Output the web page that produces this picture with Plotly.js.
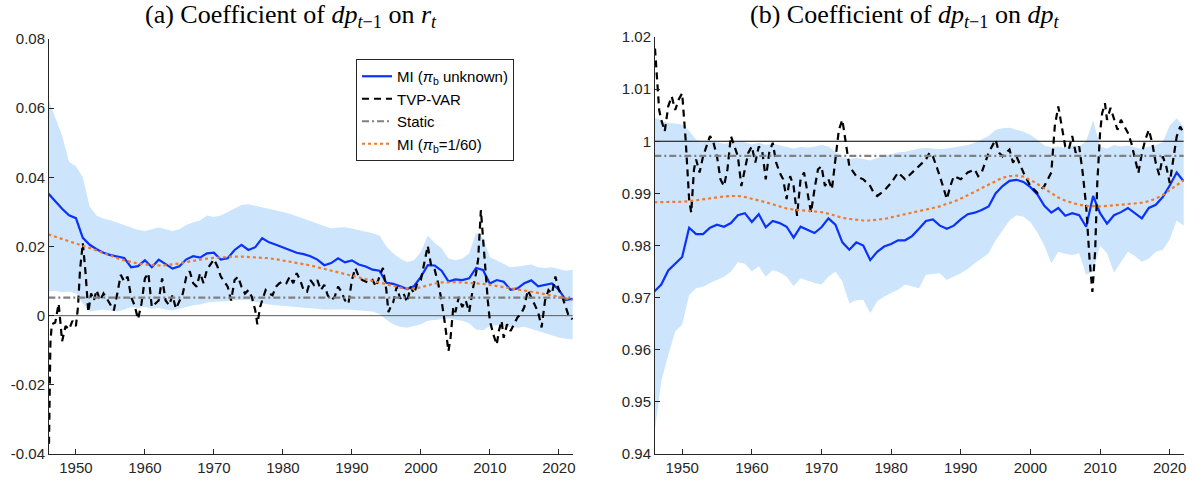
<!DOCTYPE html>
<html>
<head>
<meta charset="utf-8">
<script src="https://cdn.plot.ly/plotly-3.0.1.min.js"></script>
<style>
  html, body { margin: 0; padding: 0; background: #fff; }
  #chart { width: 1197px; height: 486px; }
</style>
</head>
<body>
<div id="chart"></div>
<script>
// annual grid shared by the smooth series
const years = [];
for (let y = 1946; y <= 2022; y++) years.push(y);

// ---- panel (a): coefficient of dp(t-1) on r(t) ----
const miA = [0.0353, 0.0330, 0.0309, 0.0290, 0.0282, 0.0225, 0.0205, 0.0192, 0.0182, 0.0175,
  0.0170, 0.0167, 0.0140, 0.0143, 0.0160, 0.0140, 0.0162, 0.0148, 0.0136, 0.0143,
  0.0163, 0.0172, 0.0168, 0.0180, 0.0182, 0.0162, 0.0166, 0.0190, 0.0205, 0.0190,
  0.0198, 0.0224, 0.0212, 0.0205, 0.0197, 0.0190, 0.0182, 0.0178, 0.0172, 0.0162,
  0.0146, 0.0152, 0.0166, 0.0154, 0.0160, 0.0148, 0.0142, 0.0133, 0.0130, 0.0095,
  0.0092, 0.0085, 0.0077, 0.0085, 0.0112, 0.0146, 0.0145, 0.0130, 0.0099, 0.0105,
  0.0103, 0.0108, 0.0138, 0.0132, 0.0093, 0.0103, 0.0098, 0.0075, 0.0079, 0.0094,
  0.0102, 0.0085, 0.0090, 0.0093, 0.0075, 0.0045, 0.0049];

const mi60A = [0.0235, 0.0228, 0.0221, 0.0214, 0.0208, 0.0202, 0.0196, 0.0188, 0.0180, 0.0172,
  0.0166, 0.0160, 0.0155, 0.0151, 0.0148, 0.0146, 0.0145, 0.0146, 0.0148, 0.0151,
  0.0155, 0.0159, 0.0162, 0.0165, 0.0167, 0.0169, 0.0170, 0.0171, 0.0171, 0.0170,
  0.0169, 0.0168, 0.0166, 0.0163, 0.0160, 0.0157, 0.0153, 0.0149, 0.0145, 0.0140,
  0.0135, 0.0130, 0.0125, 0.0121, 0.0116, 0.0111, 0.0106, 0.0101, 0.0096, 0.0091,
  0.0086, 0.0081, 0.0078, 0.0078, 0.0082, 0.0088, 0.0093, 0.0096, 0.0097, 0.0097,
  0.0096, 0.0095, 0.0094, 0.0092, 0.0089, 0.0086, 0.0082, 0.0078, 0.0075, 0.0072,
  0.0069, 0.0066, 0.0062, 0.0059, 0.0055, 0.0050, 0.0045];

const upperA = [0.0625, 0.0575, 0.0520, 0.0445, 0.0432, 0.0400, 0.0315, 0.0290, 0.0280, 0.0276,
  0.0270, 0.0262, 0.0255, 0.0248, 0.0245, 0.0250, 0.0255, 0.0250, 0.0245, 0.0250,
  0.0262, 0.0270, 0.0275, 0.0290, 0.0285, 0.0290, 0.0300, 0.0310, 0.0320, 0.0322,
  0.0318, 0.0312, 0.0308, 0.0305, 0.0300, 0.0295, 0.0288, 0.0280, 0.0272, 0.0265,
  0.0258, 0.0252, 0.0255, 0.0256, 0.0252, 0.0248, 0.0243, 0.0238, 0.0232, 0.0200,
  0.0180, 0.0165, 0.0155, 0.0160, 0.0185, 0.0232, 0.0210, 0.0195, 0.0165, 0.0160,
  0.0165, 0.0180, 0.0240, 0.0225, 0.0170, 0.0160, 0.0150, 0.0140, 0.0142, 0.0145,
  0.0148, 0.0140, 0.0138, 0.0140, 0.0135, 0.0130, 0.0133];

const lowerA = [0.0070, 0.0072, 0.0068, 0.0070, 0.0065, 0.0035, 0.0012, 0.0015, 0.0018, 0.0015,
  0.0012, 0.0018, 0.0025, 0.0022, 0.0025, 0.0020, 0.0022, 0.0018, 0.0015, 0.0020,
  0.0025, 0.0030, 0.0032, 0.0038, 0.0040, 0.0040, 0.0042, 0.0045, 0.0046, 0.0045,
  0.0040, 0.0035, 0.0032, 0.0030, 0.0028, 0.0026, 0.0024, 0.0022, 0.0020, 0.0020,
  0.0018, 0.0018, 0.0019, 0.0018, 0.0017, 0.0015, 0.0014, 0.0012, 0.0005, -0.0012,
  -0.0025, -0.0032, -0.0035, -0.0030, -0.0025, -0.0015, -0.0012, -0.0010, -0.0008, -0.0012,
  -0.0015, -0.0022, -0.0040, -0.0042, -0.0030, -0.0028, -0.0030, -0.0034, -0.0035, -0.0032,
  -0.0038, -0.0045, -0.0050, -0.0058, -0.0063, -0.0067, -0.0068];

const tvpYearsA = [1946.1, 1946.2, 1946.3, 1946.5, 1947.0, 1947.5, 1948.0, 1948.5, 1949.0, 1949.5,
  1950.0, 1950.3, 1950.6, 1951.0, 1951.4, 1951.8, 1952.2, 1952.6, 1953.0, 1953.5,
  1954.0, 1954.5, 1955.0, 1955.5, 1956.0, 1956.5, 1957.0, 1957.5, 1958.0, 1958.5,
  1959.0, 1959.5, 1960.0, 1960.5, 1961.0, 1961.5, 1962.0, 1962.5, 1963.0, 1963.5,
  1964.0, 1964.5, 1965.0, 1965.5, 1966.0, 1966.5, 1967.0, 1967.5, 1968.0, 1968.5,
  1969.0, 1969.5, 1970.0, 1970.5, 1971.0, 1971.5, 1972.0, 1972.5, 1973.0, 1973.5,
  1974.0, 1974.5, 1975.0, 1975.5, 1976.0, 1976.3, 1976.7, 1977.0, 1977.5, 1978.0,
  1978.5, 1979.0, 1979.5, 1980.0, 1980.5, 1981.0, 1981.5, 1982.0, 1982.5, 1983.0,
  1983.5, 1984.0, 1984.5, 1985.0, 1985.5, 1986.0, 1986.5, 1987.0, 1987.5, 1988.0,
  1988.5, 1989.0, 1989.5, 1990.0, 1990.5, 1991.0, 1991.5, 1992.0, 1992.5, 1993.0,
  1993.5, 1994.0, 1994.5, 1995.0, 1995.3, 1995.7, 1996.0, 1996.5, 1997.0, 1997.5,
  1998.0, 1998.5, 1999.0, 1999.5, 2000.0, 2000.5, 2001.0, 2001.5, 2002.0, 2002.5,
  2003.0, 2003.5, 2004.0, 2004.3, 2004.7, 2005.0, 2005.5, 2006.0, 2006.5, 2007.0,
  2007.5, 2008.0, 2008.3, 2008.7, 2009.0, 2009.3, 2009.7, 2010.0, 2010.5, 2011.0,
  2011.3, 2011.7, 2012.0, 2012.5, 2013.0, 2013.5, 2014.0, 2014.5, 2015.0, 2015.5,
  2016.0, 2016.5, 2017.0, 2017.5, 2018.0, 2018.5, 2019.0, 2019.5, 2020.0, 2020.5,
  2021.0, 2021.5, 2022.0];
const tvpA = [-0.0370, -0.0200, -0.0080, -0.0025, -0.0020, 0.0035, -0.0074, -0.0030, -0.0040, -0.0015,
  -0.0030, 0.0025, 0.0133, 0.0210, 0.0123, 0.0010, 0.0064, 0.0044, 0.0074, 0.0044,
  0.0064, 0.0049, 0.0030, 0.0015, 0.0064, 0.0118, 0.0099, 0.0113, 0.0054, 0.0030,
  -0.0010, 0.0034, 0.0108, 0.0123, 0.0025, 0.0034, 0.0044, 0.0108, 0.0044, 0.0030,
  0.0059, 0.0020, 0.0044, 0.0064, 0.0113, 0.0128, 0.0094, 0.0084, 0.0123, 0.0094,
  0.0133, 0.0148, 0.0163, 0.0143, 0.0113, 0.0099, 0.0084, 0.0044, 0.0103, 0.0113,
  0.0084, 0.0064, 0.0074, 0.0054, 0.0015, -0.0025, 0.0025, 0.0044, 0.0074, 0.0064,
  0.0059, 0.0084, 0.0094, 0.0099, 0.0094, 0.0113, 0.0094, 0.0123, 0.0103, 0.0074,
  0.0069, 0.0103, 0.0089, 0.0103, 0.0074, 0.0089, 0.0059, 0.0044, 0.0054, 0.0084,
  0.0069, 0.0044, 0.0034, 0.0103, 0.0138, 0.0113, 0.0103, 0.0099, 0.0094, 0.0103,
  0.0084, 0.0113, 0.0138, 0.0074, 0.0010, 0.0030, 0.0039, 0.0084, 0.0049, 0.0064,
  0.0039, 0.0084, 0.0064, 0.0094, 0.0103, 0.0153, 0.0202, 0.0143, 0.0133, 0.0094,
  0.0044, -0.0025, -0.0103, -0.0064, 0.0025, 0.0010, 0.0054, 0.0025, 0.0044, 0.0010,
  0.0074, 0.0123, 0.0163, 0.0305, 0.0220, 0.0133, 0.0044, -0.0015, -0.0054, -0.0084,
  -0.0044, -0.0015, -0.0064, -0.0025, -0.0044, -0.0025, -0.0005, 0.0005, 0.0025, 0.0074,
  0.0054, 0.0034, 0.0010, -0.0034, 0.0044, 0.0074, 0.0064, 0.0113, 0.0074, 0.0054,
  0.0025, -0.0005, -0.0010];

const staticA = 0.0052;
const refA = 0;

// ---- panel (b): coefficient of dp(t-1) on dp(t) ----
const miB = [0.9712, 0.9725, 0.9752, 0.9765, 0.9778, 0.9834, 0.9822, 0.9822, 0.9834, 0.9840,
  0.9836, 0.9843, 0.9858, 0.9862, 0.9845, 0.9860, 0.9835, 0.9847, 0.9843, 0.9836,
  0.9815, 0.9836, 0.9830, 0.9824, 0.9835, 0.9852, 0.9840, 0.9806, 0.9792, 0.9806,
  0.9800, 0.9772, 0.9788, 0.9798, 0.9803, 0.9810, 0.9810, 0.9818, 0.9832, 0.9847,
  0.9850, 0.9838, 0.9832, 0.9838, 0.9850, 0.9860, 0.9863, 0.9868, 0.9875, 0.9900,
  0.9914, 0.9924, 0.9926, 0.9922, 0.9912, 0.9898, 0.9876, 0.9863, 0.9872, 0.9857,
  0.9862, 0.9858, 0.9836, 0.9895, 0.9862, 0.9842, 0.9858, 0.9864, 0.9872, 0.9862,
  0.9852, 0.9872, 0.9878, 0.9893, 0.9915, 0.9940, 0.9923];

const mi60B = [0.9883, 0.9883, 0.9884, 0.9884, 0.9884, 0.9885, 0.9887, 0.9889, 0.9891, 0.9893,
  0.9894, 0.9895, 0.9895, 0.9893, 0.9890, 0.9887, 0.9883, 0.9879, 0.9875, 0.9871,
  0.9869, 0.9868, 0.9867, 0.9866, 0.9864, 0.9861, 0.9857, 0.9853, 0.9851, 0.9849,
  0.9848, 0.9848, 0.9849, 0.9851, 0.9854, 0.9857, 0.9861, 0.9864, 0.9867, 0.9870,
  0.9872, 0.9875, 0.9880, 0.9884, 0.9890, 0.9896, 0.9903, 0.9910, 0.9917, 0.9924,
  0.9930, 0.9933, 0.9934, 0.9932, 0.9926, 0.9918, 0.9909, 0.9900, 0.9892, 0.9886,
  0.9882, 0.9878, 0.9876, 0.9875, 0.9875, 0.9876, 0.9877, 0.9878, 0.9879, 0.9880,
  0.9882, 0.9885, 0.9890, 0.9897, 0.9906, 0.9916, 0.9925];

const upperB = [1.0045, 1.0040, 1.0035, 1.0034, 1.0032, 1.0020, 1.0003, 1.0000, 1.0002, 0.9998,
  0.9995, 0.9997, 1.0000, 0.9998, 0.9994, 0.9997, 0.9993, 0.9995, 0.9992, 0.9990,
  0.9986, 0.9989, 0.9988, 0.9990, 0.9993, 0.9990, 0.9980, 0.9970, 0.9966, 0.9968,
  0.9966, 0.9963, 0.9968, 0.9972, 0.9976, 0.9979, 0.9980, 0.9983, 0.9986, 0.9987,
  0.9986, 0.9985, 0.9986, 0.9988, 0.9990, 0.9993, 0.9997, 1.0003, 1.0010, 1.0022,
  1.0025, 1.0026, 1.0022, 1.0018, 1.0012, 1.0003, 0.9992, 0.9988, 0.9990, 0.9987,
  0.9993, 0.9990, 1.0000, 1.0040, 0.9990, 0.9986, 0.9993, 0.9990, 0.9992, 0.9988,
  0.9985, 0.9990, 0.9993, 0.9998, 1.0030, 1.0044, 1.0028];

const lowerB = [0.9437, 0.9540, 0.9590, 0.9635, 0.9648, 0.9705, 0.9718, 0.9721, 0.9728, 0.9734,
  0.9740, 0.9750, 0.9768, 0.9765, 0.9750, 0.9760, 0.9740, 0.9753, 0.9748, 0.9740,
  0.9722, 0.9737, 0.9732, 0.9728, 0.9725, 0.9740, 0.9750, 0.9731, 0.9689, 0.9695,
  0.9696, 0.9670, 0.9693, 0.9702, 0.9709, 0.9715, 0.9725, 0.9722, 0.9718, 0.9744,
  0.9745, 0.9747, 0.9734, 0.9740, 0.9747, 0.9755, 0.9766, 0.9775, 0.9785, 0.9810,
  0.9830, 0.9848, 0.9858, 0.9855, 0.9845, 0.9825, 0.9800, 0.9766, 0.9788, 0.9784,
  0.9782, 0.9785, 0.9744, 0.9750, 0.9800, 0.9785, 0.9748, 0.9769, 0.9788, 0.9780,
  0.9769, 0.9775, 0.9788, 0.9792, 0.9812, 0.9848, 0.9838];

const tvpYearsB = [1946.1, 1946.4, 1946.7, 1947.0, 1947.5, 1948.0, 1948.5, 1949.0, 1949.5, 1950.0,
  1950.5, 1951.0, 1951.3, 1951.7, 1952.0, 1952.5, 1953.0, 1954.0, 1954.5, 1955.0,
  1955.5, 1956.0, 1956.5, 1957.0, 1957.5, 1958.0, 1958.5, 1959.0, 1959.5, 1960.0,
  1960.5, 1961.0, 1961.5, 1962.0, 1962.5, 1963.0, 1963.5, 1964.0, 1964.5, 1965.0,
  1965.5, 1966.0, 1966.5, 1967.0, 1967.5, 1968.0, 1968.5, 1969.0, 1969.5, 1970.0,
  1970.5, 1971.0, 1971.5, 1972.0, 1972.5, 1973.0, 1973.5, 1974.0, 1975.0, 1976.0,
  1977.0, 1977.5, 1978.0, 1979.0, 1980.0, 1981.0, 1982.0, 1983.0, 1984.0, 1985.0,
  1985.5, 1986.0, 1987.0, 1988.0, 1988.5, 1989.0, 1990.0, 1991.0, 1992.0, 1992.5,
  1993.0, 1994.0, 1995.0, 1995.5, 1996.0, 1997.0, 1997.5, 1998.0, 1999.0, 2000.0,
  2001.0, 2002.0, 2003.0, 2003.5, 2004.0, 2004.5, 2005.0, 2005.5, 2006.0, 2006.5,
  2007.0, 2007.5, 2008.0, 2008.5, 2008.9, 2009.3, 2009.6, 2010.0, 2010.3, 2010.7,
  2011.0, 2011.5, 2012.0, 2012.5, 2013.0, 2013.5, 2014.0, 2014.5, 2015.0, 2015.5,
  2016.0, 2016.5, 2017.0, 2017.5, 2018.0, 2018.5, 2019.0, 2019.5, 2020.0, 2020.5,
  2021.0, 2021.5, 2022.0];
const tvpB = [1.0178, 1.0118, 1.0060, 1.0041, 1.0019, 1.0067, 1.0086, 1.0060, 1.0080, 1.0092,
  1.0003, 0.9889, 0.9863, 0.9946, 0.9965, 0.9940, 0.9971, 1.0010, 0.9997, 0.9971,
  0.9927, 0.9914, 0.9946, 1.0010, 0.9990, 0.9971, 0.9914, 0.9946, 0.9978, 0.9990,
  0.9959, 0.9990, 0.9981, 0.9927, 0.9978, 0.9997, 0.9959, 0.9940, 0.9927, 0.9889,
  0.9933, 0.9914, 0.9857, 0.9927, 0.9940, 0.9901, 0.9863, 0.9908, 0.9946, 0.9952,
  0.9914, 0.9927, 0.9908, 0.9965, 1.0022, 1.0041, 0.9997, 0.9952, 0.9933, 0.9927,
  0.9914, 0.9901, 0.9895, 0.9905, 0.9920, 0.9940, 0.9927, 0.9940, 0.9952, 0.9965,
  0.9978, 0.9971, 0.9933, 0.9889, 0.9914, 0.9933, 0.9927, 0.9940, 0.9946, 0.9933,
  0.9940, 0.9978, 1.0003, 0.9978, 0.9971, 0.9984, 0.9959, 0.9971, 0.9940, 0.9914,
  0.9901, 0.9914, 0.9940, 1.0029, 1.0067, 1.0029, 0.9990, 0.9984, 1.0010, 0.9978,
  0.9990, 0.9940, 0.9876, 0.9772, 0.9711, 0.9791, 0.9920, 1.0016, 1.0054, 1.0073,
  1.0041, 1.0064, 1.0041, 1.0022, 1.0041, 1.0028, 1.0016, 0.9996, 0.9968, 0.9939,
  0.9977, 1.0003, 1.0022, 0.9996, 0.9958, 0.9935, 0.9971, 0.9952, 0.9920, 0.9964,
  1.0009, 1.0028, 1.0016];

const staticB = 0.9972;
const refB = 1;

// tick labels
const xTicks = [1950, 1960, 1970, 1980, 1990, 2000, 2010, 2020];
const yTicksA = [-0.04, -0.02, 0, 0.02, 0.04, 0.06, 0.08];
const yTextA = ['-0.04', '-0.02', '0', '0.02', '0.04', '0.06', '0.08'];
const yTicksB = [0.94, 0.95, 0.96, 0.97, 0.98, 0.99, 1, 1.01, 1.02];
const yTextB = ['0.94', '0.95', '0.96', '0.97', '0.98', '0.99', '1', '1.01', '1.02'];

const bandColor = 'rgb(204,228,252)';
const blue = 'rgb(10,50,250)';
const orange = 'rgb(242,122,40)';
const grey = 'rgb(128,128,128)';

function panelTraces(xa, ya, mi, mi60, upper, lower, tvpX, tvp, stat, ref, refColor, legend) {
  const ends = [years[0], years[years.length - 1]];
  return [
    { x: years, y: lower, xaxis: xa, yaxis: ya, mode: 'lines', line: { width: 0 },
      showlegend: false, hoverinfo: 'skip' },
    { x: years, y: upper, xaxis: xa, yaxis: ya, mode: 'lines', line: { width: 0 },
      fill: 'tonexty', fillcolor: bandColor, showlegend: false, hoverinfo: 'skip' },
    { x: ends, y: [ref, ref], xaxis: xa, yaxis: ya, mode: 'lines',
      line: { color: refColor, width: 1 }, showlegend: false },
    { x: years, y: mi, xaxis: xa, yaxis: ya, mode: 'lines', name: 'MI (<i>π</i><sub>b</sub> unknown)',
      line: { color: blue, width: 2.2 }, showlegend: legend },
    { x: tvpX, y: tvp, xaxis: xa, yaxis: ya, mode: 'lines', name: 'TVP-VAR',
      line: { color: 'black', width: 2.2, dash: '7px,5px' }, showlegend: legend },
    { x: ends, y: [stat, stat], xaxis: xa, yaxis: ya, mode: 'lines', name: 'Static',
      line: { color: grey, width: 2.2, dash: '7px,3px,2px,3px' }, showlegend: legend },
    { x: years, y: mi60, xaxis: xa, yaxis: ya, mode: 'lines', name: 'MI (<i>π</i><sub>b</sub>=1/60)',
      line: { color: orange, width: 2.2, dash: 'dot' }, showlegend: legend },
  ];
}

const data = [
  ...panelTraces('x', 'y', miA, mi60A, upperA, lowerA, tvpYearsA, tvpA, staticA, refA, 'rgb(90,90,90)', true),
  ...panelTraces('x2', 'y2', miB, mi60B, upperB, lowerB, tvpYearsB, tvpB, staticB, refB, 'black', false),
];

const tickFont = { family: 'Liberation Sans, Arial, sans-serif', size: 15, color: 'rgb(38,38,38)' };
const W = 1197, H = 486;

function xAxis(domain) {
  return {
    domain: domain, range: [1946.1, 2022.05], tickvals: xTicks, ticks: 'inside', ticklen: 5,
    tickcolor: 'rgb(38,38,38)', showline: true, linecolor: 'rgb(38,38,38)', linewidth: 1,
    showgrid: false, zeroline: false, tickfont: tickFont,
  };
}
function yAxis(range, vals, text, anchor, top) {
  return {
    domain: [1 - 454 / H, 1 - top / H], range: range, tickvals: vals, ticktext: text,
    ticks: 'inside', ticklen: 5, tickcolor: 'rgb(38,38,38)', showline: true,
    linecolor: 'rgb(38,38,38)', linewidth: 1, showgrid: false, zeroline: false,
    tickfont: tickFont, anchor: anchor,
  };
}

const titleFont = { family: 'Liberation Serif, DejaVu Serif, serif', size: 26, color: 'black' };

const layout = {
  width: W, height: H,
  margin: { l: 0, r: 0, t: 0, b: 0 },
  paper_bgcolor: 'white', plot_bgcolor: 'rgba(0,0,0,0)',
  xaxis: Object.assign(xAxis([49 / W, 573 / W]), { anchor: 'y' }),
  yaxis: yAxis([-0.04, 0.08], yTicksA, yTextA, 'x', 39),
  xaxis2: Object.assign(xAxis([655 / W, 1184 / W]), { anchor: 'y2' }),
  yaxis2: yAxis([0.94, 1.02], yTicksB, yTextB, 'x2', 37),
  showlegend: true,
  legend: {
    x: 356 / W, y: 1 - 59 / H, xanchor: 'left', yanchor: 'top',
    traceorder: 'normal',
    bgcolor: 'white', bordercolor: 'rgb(38,38,38)', borderwidth: 1,
    font: { family: 'Liberation Sans, Arial, sans-serif', size: 15, color: 'black' },
    tracegroupgap: 0,
  },
  annotations: [
    { text: '(a) Coefficient of <i>dp</i><sub><i>t</i>−1</sub> on <i>r</i><sub><i>t</i></sub>',
      xref: 'paper', yref: 'paper', x: 291 / W, y: 1 - 16 / H, xanchor: 'center', yanchor: 'middle',
      showarrow: false, font: titleFont },
    { text: '(b) Coefficient of <i>dp</i><sub><i>t</i>−1</sub> on <i>dp</i><sub><i>t</i></sub>',
      xref: 'paper', yref: 'paper', x: 904 / W, y: 1 - 16 / H, xanchor: 'center', yanchor: 'middle',
      showarrow: false, font: titleFont },
  ],
};

Plotly.newPlot('chart', data, layout, { displayModeBar: false, staticPlot: true });
</script>
</body>
</html>
